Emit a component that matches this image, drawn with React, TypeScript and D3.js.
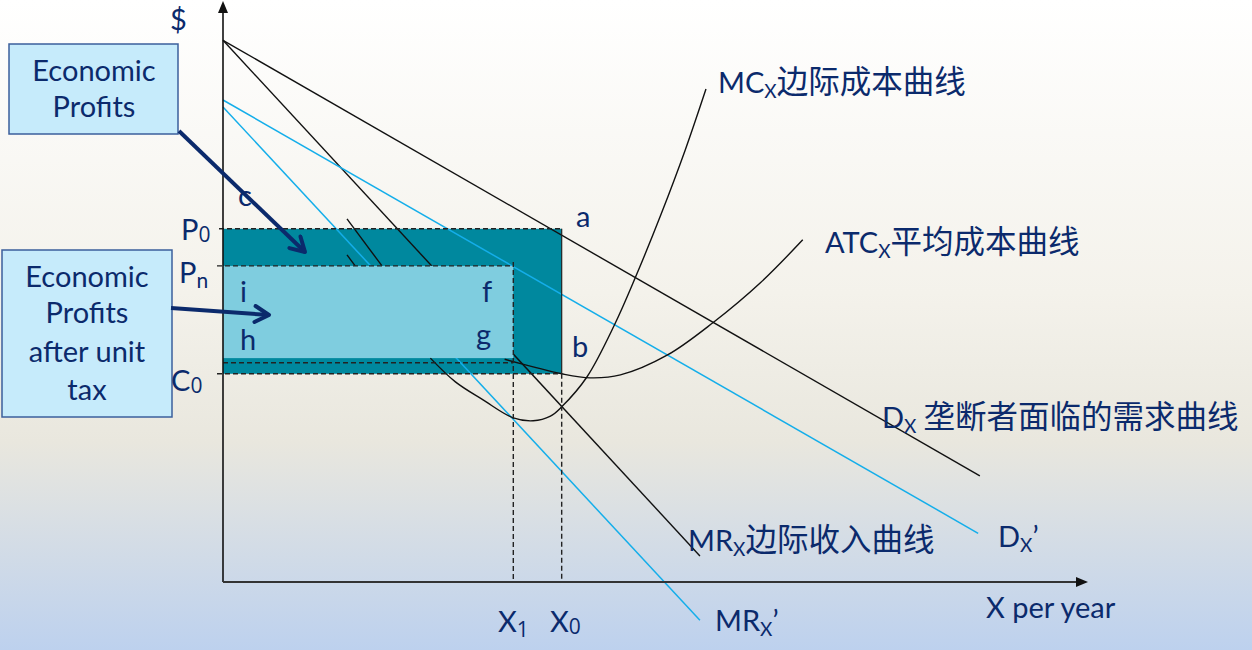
import React from 'react';
import * as d3 from 'd3';

const W = 1252;
const H = 650;

// Quantities (X per year) and prices ($), in chart units (0-100)
const quantityMarks = { X1: 33.6, X0: 39.2 };
const priceMarks = { P0: 60.9, Pn: 54.5, C0: 35.9, taxFloor: 38.6, taxCost: 37.8 };

// Straight curves: [quantity, price]
const demandX: [number, number][] = [[0, 93.4], [87.6, 18.3]];
const marginalRevenueX: [number, number][] = [[0, 93.4], [55.2, 4.5]];
const demandAfterTax: [number, number][] = [[0, 83.1], [87.4, 8.4]];
const marginalRevenueAfterTax: [number, number][] = [[0, 81.9], [55.2, -6.6]];
const stubA: [number, number][] = [[14.35, 62.6], [18.4, 54.5]];
const stubB: [number, number][] = [[14.35, 56.4], [15.3, 54.5]];

// Cost curves
const marginalCost: [number, number][] = [
  [24.0, 38.6], [26.9, 34.5], [30.1, 31.4], [33.6, 28.3], [35.9, 27.8], [37.9, 28.6],
  [39.2, 30.2], [42.1, 35.3], [45.3, 44.3], [47.7, 52.4], [50.7, 63.4], [53.5, 74.5], [55.9, 85.0],
];
const averageTotalCost: [number, number][] = [
  [32.6, 38.4], [35.9, 37.1], [39.2, 35.9], [42.5, 35.2], [46.0, 35.7], [51.4, 39.1],
  [56.7, 44.7], [62.2, 51.6], [67.1, 59.0],
];

const NAVY = '#0b2a6c';
const BLUE = '#14aeea';
const LATIN = 'Lato, "Open Sans", sans-serif';
const DIGIT = '"Open Sans", sans-serif';
const CJK = '"Noto Sans CJK SC", sans-serif';

export default function App() {
  const x = d3.scaleLinear().domain([0, 100]).range([223, 1087]);
  const y = d3.scaleLinear().domain([0, 100]).range([582, 2]);
  const straight = d3.line<[number, number]>().x(d => x(d[0])).y(d => y(d[1]));
  const smooth = d3.line<[number, number]>().x(d => x(d[0])).y(d => y(d[1])).curve(d3.curveCatmullRom.alpha(0.5));

  const { X1, X0 } = quantityMarks;
  const { P0, Pn, C0, taxFloor, taxCost } = priceMarks;
  const fs = 29;
  const sub = 19;
  const dig = 21;
  const cj = 31.5;

  const T = (props: any) => (
    <text fill={NAVY} fontFamily={LATIN} fontSize={fs} {...props} />
  );

  return (
    <svg width={W} height={H} style={{ position: 'absolute', left: 0, top: 0 }}>
      <defs>
        <linearGradient id="bg" x1="0" y1="0" x2="0" y2="1">
          <stop offset="0" stopColor="#ffffff" />
          <stop offset="0.45" stopColor="#f4f2eb" />
          <stop offset="0.68" stopColor="#e9e7de" />
          <stop offset="1" stopColor="#bdd1ee" />
        </linearGradient>
        <marker id="openArrow" viewBox="0 0 20 20" refX="17" refY="10" markerWidth="20" markerHeight="20" markerUnits="userSpaceOnUse" orient="auto">
          <path d="M3,2 L17,10 L3,18" fill="none" stroke={NAVY} strokeWidth={4} strokeLinecap="round" strokeLinejoin="round" />
        </marker>
      </defs>
      <rect x={0} y={0} width={W} height={H} fill="url(#bg)" />

      {/* profit rectangle before tax */}
      <rect x={x(0)} y={y(P0)} width={x(X0) - x(0)} height={y(C0) - y(P0)} fill="#00889e" />

      {/* straight lines */}
      <path d={straight(demandX)!} stroke="#111" strokeWidth={1.4} fill="none" />
      <path d={straight(marginalRevenueX)!} stroke="#111" strokeWidth={1.4} fill="none" />
      <path d={straight(demandAfterTax)!} stroke={BLUE} strokeWidth={1.5} fill="none" />
      <path d={straight(marginalRevenueAfterTax)!} stroke={BLUE} strokeWidth={1.5} fill="none" />
      <path d={straight(stubA)!} stroke="#111" strokeWidth={1.4} fill="none" />
      <path d={straight(stubB)!} stroke="#111" strokeWidth={1.4} fill="none" />

      {/* profit rectangle after tax */}
      <rect x={x(0)} y={y(Pn)} width={x(X1) - x(0)} height={y(taxFloor) - y(Pn)} fill="#7fcddf" />

      {/* cost curves */}
      <path d={smooth(marginalCost)!} stroke="#111" strokeWidth={1.4} fill="none" />
      <path d={smooth(averageTotalCost)!} stroke="#111" strokeWidth={1.4} fill="none" />

      {/* dashed guides */}
      <g stroke="#222" strokeWidth={1.4} strokeDasharray="5,3" fill="none">
        <line x1={x(0) - 4} x2={x(X0)} y1={y(P0)} y2={y(P0)} />
        <line x1={x(0) - 6} x2={x(X1)} y1={y(Pn)} y2={y(Pn)} />
        <line x1={x(0)} x2={x(X1)} y1={y(taxCost)} y2={y(taxCost)} />
        <line x1={x(0) - 6} x2={x(X0)} y1={y(C0)} y2={y(C0)} />
        <line x1={x(X1)} x2={x(X1)} y1={y(Pn) - 4} y2={y(0)} />
        <line x1={x(X0)} x2={x(X0)} y1={y(C0)} y2={y(0)} />
      </g>
      <line x1={x(X0)} x2={x(X0)} y1={y(P0)} y2={y(C0)} stroke="#222" strokeWidth={1.2} />

      {/* axes */}
      <line x1={x(0)} x2={x(0)} y1={y(0)} y2={12} stroke="#111" strokeWidth={1.6} />
      <path d={`M${x(0)},1 L${x(0) - 5},13 L${x(0) + 5},13 Z`} fill="#111" />
      <line x1={x(0)} x2={1076} y1={y(0)} y2={y(0)} stroke="#333" strokeWidth={2} />
      <path d={`M1088,${y(0)} L1076,${y(0) - 5} L1076,${y(0) + 5} Z`} fill="#111" />

      {/* callout boxes */}
      <rect x={9} y={44} width={169} height={90} fill="#c6ebfb" stroke="#3b5f9c" strokeWidth={1.5} />
      <T x={94} y={81} textAnchor="middle">Economic</T>
      <T x={94} y={117} textAnchor="middle">Profits</T>
      <rect x={2} y={250} width={170} height={167} fill="#c6ebfb" stroke="#3b5f9c" strokeWidth={1.5} />
      <T x={87} y={287} textAnchor="middle">Economic</T>
      <T x={87} y={323} textAnchor="middle">Profits</T>
      <T x={87} y={362} textAnchor="middle">after unit</T>
      <T x={87} y={400} textAnchor="middle">tax</T>

      {/* arrows */}
      <line x1={179} y1={131} x2={305} y2={252} stroke={NAVY} strokeWidth={4} markerEnd="url(#openArrow)" />
      <line x1={171} y1={308} x2={269} y2={315} stroke={NAVY} strokeWidth={4} markerEnd="url(#openArrow)" />

      {/* point labels */}
      <T x={170} y={30}>$</T>
      <T x={238} y={206}>c</T>
      <T x={576} y={227}>a</T>
      <T x={181} y={240}>P<tspan fontFamily={DIGIT} fontSize={dig} dy={2}>0</tspan></T>
      <T x={179} y={283}>P<tspan fontSize={sub + 2} dy={5}>n</tspan></T>
      <T x={171} y={391}>C<tspan fontFamily={DIGIT} fontSize={dig} dy={2}>0</tspan></T>
      <T x={240} y={302}>i</T>
      <T x={240} y={350}>h</T>
      <T x={482} y={302}>f</T>
      <T x={476} y={345}>g</T>
      <T x={572} y={357}>b</T>
      <T x={498} y={632}>X<tspan fontFamily={DIGIT} fontSize={dig} dy={5}>1</tspan></T>
      <T x={550} y={632}>X<tspan fontFamily={DIGIT} fontSize={dig} dy={2}>0</tspan></T>
      <T x={986} y={618}>X per year</T>

      {/* curve labels */}
      <T x={718} y={93}>MC<tspan fontSize={sub} dy={5}>X</tspan><tspan fontFamily={CJK} fontSize={cj} dy={-5}>边际成本曲线</tspan></T>
      <T x={825} y={253}>ATC<tspan fontSize={sub} dy={5}>X</tspan><tspan fontFamily={CJK} fontSize={cj} dy={-5}>平均成本曲线</tspan></T>
      <T x={882} y={428}>D<tspan fontSize={sub} dy={5}>X</tspan><tspan fontFamily={CJK} fontSize={cj} dy={-5}> 垄断者面临的需求曲线</tspan></T>
      <T x={998} y={547}>D<tspan fontSize={sub} dy={5}>X</tspan><tspan dy={-5}>’</tspan></T>
      <T x={688} y={551}>MR<tspan fontSize={sub} dy={5}>X</tspan><tspan fontFamily={CJK} fontSize={cj} dy={-5}>边际收入曲线</tspan></T>
      <T x={715} y={631}>MR<tspan fontSize={sub} dy={5}>X</tspan><tspan dy={-5}>’</tspan></T>
    </svg>
  );
}
